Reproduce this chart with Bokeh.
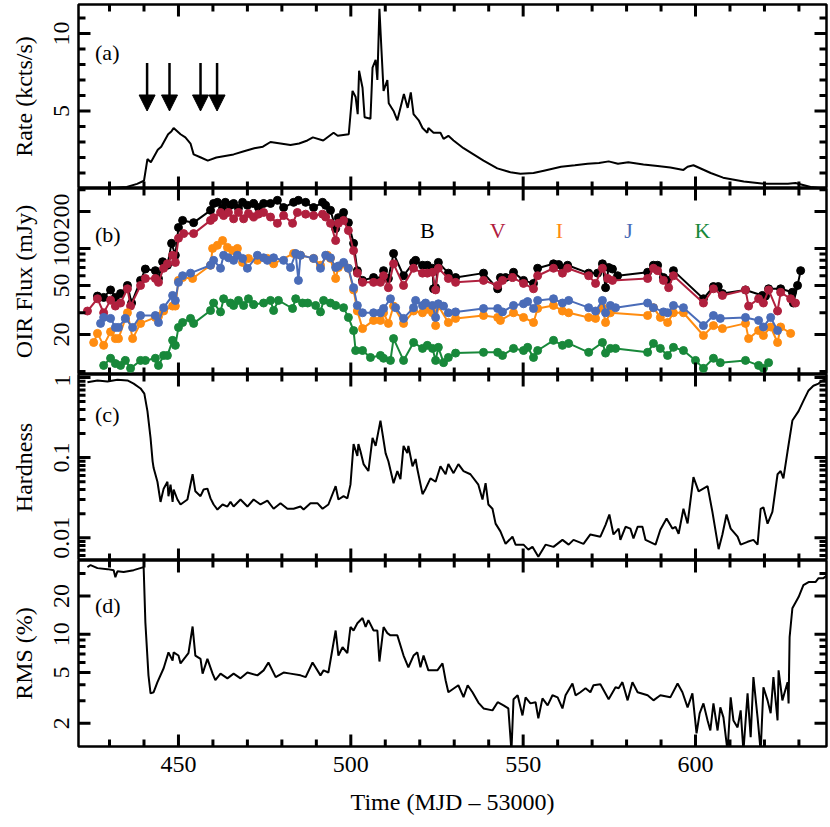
import math
from bokeh.plotting import figure
from bokeh.models import (Range1d, LinearAxis, LogAxis, FixedTicker, Arrow, NormalHead,
                          Label, CustomJSTickFormatter)
from bokeh.layouts import column
from bokeh.embed import file_html
from bokeh.resources import INLINE

# ---------------- data ----------------
rate_t = [426.5, 430.0, 435.0, 438.0, 440.0, 441.0, 442.0, 444.0, 445.0, 447.0, 448.0, 448.6,
          450.6, 452.0, 453.5, 454.4, 456.5, 458.5, 461.0, 463.5, 466.0, 469.0, 472.0, 474.5,
          476.7, 479.6, 482.5, 485.0, 487.4, 489.0, 492.0, 495.0, 496.2, 499.4, 500.5, 501.4,
          502.0, 502.4, 503.4, 504.0, 505.7, 506.3, 507.2, 507.7, 508.3, 508.9, 509.5, 510.6,
          511.0, 512.4, 513.5, 515.4, 516.5, 517.4, 518.2, 519.7, 520.8, 522.2, 522.5, 524.0,
          526.0, 526.9, 528.3, 529.8, 532.7, 535.6, 538.5, 542.5, 546.3, 549.2, 553.0, 556.0,
          561.0, 565.0, 568.7, 572.0, 574.8, 577.5, 580.5, 584.9, 589.0, 592.7, 596.5, 597.7,
          599.4, 604.4, 608.0, 614.0, 620.0, 625.0, 626.8, 629.0, 633.4, 637.0]
rate = [0.0, 0.02, 0.1, 0.3, 0.5, 1.9, 1.7, 2.5, 2.7, 3.5, 3.7, 3.9,
        3.5, 3.3, 2.9, 2.2, 2.0, 1.8, 2.0, 2.1, 2.2, 2.4, 2.6, 2.7,
        3.0, 2.9, 2.8, 2.9, 3.1, 3.3, 3.1, 3.6, 3.4, 3.5, 6.3, 5.9,
        4.8, 7.6, 6.5, 4.6, 4.5, 7.8, 8.3, 7.0, 11.6, 8.9, 6.3, 7.0,
        5.5, 5.0, 4.4, 6.1, 5.2, 6.2, 4.8, 4.4, 3.9, 3.6, 3.9, 3.6,
        3.6, 3.2, 3.4, 3.1, 2.6, 2.2, 1.8, 1.3, 1.05, 0.95, 1.0, 1.15,
        1.4, 1.5, 1.6, 1.65, 1.75, 1.6, 1.7, 1.55, 1.45, 1.35, 1.2, 1.4,
        1.5, 1.0, 0.7, 0.45, 0.3, 0.3, 0.3, 0.35, 0.1, 0.0]

arrow_t = [440.9, 447.4, 456.4, 461.2]

B_t = [426.5, 428.3, 430.3, 431.7, 433.2, 435.2, 436.4, 439.0, 440.4, 443.3, 444.2, 445.4, 446.8,
       448.0, 449.1, 450.0, 451.2, 454.4, 459.3, 460.2, 461.3, 462.8, 463.6, 465.1, 466.0, 467.4,
       468.6, 470.0, 471.8, 473.2, 474.7, 476.7, 478.7, 480.5, 483.4, 484.8, 486.9, 489.2, 491.8,
       492.7, 494.1, 495.6, 496.4, 497.9, 499.3, 500.8, 501.9, 503.4, 506.6, 508.6, 509.5, 510.9,
       512.4, 515.3, 518.2, 518.8, 520.8, 522.2, 523.7, 524.0, 524.6, 525.4, 528.3, 530.4, 538.5,
       542.6, 543.4, 544.9, 547.2, 550.1, 553.0, 554.2, 558.8, 560.3, 561.7, 562.9, 569.0, 571.6,
       573.0, 573.9, 574.8, 575.9, 577.4, 586.1, 587.8, 589.0, 590.7, 591.9, 593.6, 602.3, 605.2,
       606.6, 607.8, 614.5, 619.4, 620.3, 621.2, 624.7, 628.1, 628.4, 629.6, 630.5]
B_flux = [41, 40, 46, 40, 43, 50, 36, 55, 68, 66, 57, 78, 73,
          110, 88, 148, 169, 162, 204, 232, 237, 212, 237, 224, 232, 212,
          237, 224, 232, 215, 232, 232, 246, 215, 237, 246, 237, 215, 237,
          224, 204, 145, 178, 196, 162, 110, 66, 55, 58, 55, 66, 57,
          91, 60, 77, 80, 73, 73, 69, 47, 48, 77, 63, 58, 63,
          47, 58, 58, 64, 55, 52, 69, 75, 74, 69, 73, 63, 63,
          75, 48, 70, 68, 60, 64, 73, 73, 58, 55, 66, 39, 49,
          49, 43, 46, 41.5, 41, 47, 47, 44, 36, 50, 66]

V_t = [423.6, 426.5, 428.3, 430.3, 431.7, 433.2, 435.2, 436.1, 439.0, 440.4, 443.3, 444.2, 445.7,
       446.8, 448.3, 449.1, 450.0, 451.5, 454.4, 459.3, 460.2, 462.2, 463.1, 464.5, 466.0, 467.4,
       468.9, 470.3, 471.8, 473.2, 474.7, 476.7, 478.7, 480.5, 483.1, 484.5, 486.9, 489.2, 491.8,
       492.7, 494.1, 495.6, 496.4, 497.9, 499.3, 500.8, 501.9, 503.4, 506.6, 508.6, 509.5, 510.9,
       512.4, 515.3, 518.2, 520.8, 522.2, 523.7, 524.6, 525.4, 528.3, 530.4, 538.5, 542.6, 544.0,
       546.9, 550.1, 553.0, 554.2, 558.8, 561.4, 562.9, 569.0, 571.0, 573.0, 574.5, 575.9, 586.1,
       587.8, 589.0, 590.7, 592.2, 593.6, 602.3, 605.2, 607.8, 614.5, 615.4, 618.3, 619.7, 621.2,
       623.8, 624.7, 627.6, 629.0]
V_flux = [31, 39, 30, 38, 34, 36, 47, 34, 50, 57, 57, 53, 69,
          75, 88, 77, 121, 132, 132, 169, 178, 196, 185, 196, 174, 196,
          174, 192, 180, 190, 196, 180, 160, 185, 160, 196, 190, 185, 190,
          180, 160, 116, 160, 169, 140, 96, 63, 53, 53, 53, 60, 48,
          75, 50, 69, 63, 63, 64, 46, 69, 57, 53, 55, 50, 55,
          58, 52, 47, 60, 69, 63, 69, 60, 52, 69, 57, 55, 57,
          69, 66, 55, 48, 60, 36, 47, 41.5, 46, 34, 39, 36, 46,
          31, 44, 39, 36]

I_t = [425.4, 426.5, 428.3, 430.3, 431.7, 432.6, 435.2, 436.7, 439.0, 443.3, 444.2, 445.7, 448.3,
       449.1, 450.0, 451.2, 454.1, 459.3, 459.9, 461.3, 462.8, 464.2, 465.7, 467.1, 468.6, 470.3,
       472.9, 475.8, 477.6, 483.4, 485.4, 489.2, 491.2, 493.2, 494.1, 495.6, 496.4, 497.9, 499.3,
       500.8, 501.9, 503.4, 506.6, 508.6, 509.5, 510.9, 512.4, 515.3, 518.2, 520.8, 522.2, 523.7,
       524.6, 525.4, 528.3, 530.4, 538.5, 542.6, 543.4, 547.2, 550.1, 553.0, 554.2, 558.8, 561.4,
       563.2, 569.0, 571.0, 573.0, 573.9, 575.3, 586.1, 587.8, 589.8, 591.9, 593.6, 596.5, 602.3,
       605.2, 607.8, 614.5, 615.4, 618.3, 619.7, 621.8, 623.8, 624.7, 627.6]
I_flux = [17.2, 20.4, 16.3, 21, 18.5, 18.5, 30, 18.5, 24.6, 27.5, 28, 31, 34,
          34, 55, 58, 57, 73, 100, 106, 116, 102, 96, 100, 77, 83,
          80, 83, 75, 91, 88, 83, 73, 88, 83, 57, 70, 75, 69,
          46, 31, 22.3, 26, 26, 30, 24.6, 34, 24.6, 31, 30, 32, 30,
          23.6, 34, 25, 27, 28.5, 27.5, 26, 30, 27.5, 25, 32.5, 34.4, 31,
          30, 27.5, 27, 33, 25, 30, 28.5, 33, 27.5, 25, 30, 30, 19.6,
          23.6, 22.3, 24.6, 18.5, 21.5, 19.6, 23, 17.2, 23, 20.4]

J_t = [427.4, 428.3, 430.3, 431.7, 432.6, 434.6, 436.7, 439.0, 443.3, 444.2, 445.7, 448.3, 449.1,
       450.0, 451.2, 453.5, 459.3, 460.2, 462.2, 463.1, 464.5, 466.0, 467.1, 468.6, 470.0, 472.9,
       474.7, 475.8, 477.6, 480.5, 482.5, 484.0, 484.8, 485.4, 489.2, 491.2, 492.7, 494.1, 495.6,
       496.4, 497.9, 499.3, 500.8, 501.9, 503.4, 506.6, 508.6, 509.5, 511.5, 513.0, 515.3, 518.2,
       518.8, 520.8, 521.7, 523.7, 524.6, 525.4, 526.9, 528.3, 530.4, 538.5, 542.6, 544.0, 547.2,
       550.1, 551.3, 553.0, 554.2, 558.8, 561.4, 563.2, 569.0, 571.0, 573.0, 573.9, 575.3, 576.8,
       586.1, 587.8, 590.7, 591.9, 593.6, 596.5, 602.3, 605.2, 607.2, 614.5, 618.3, 619.7, 621.8,
       623.8]
J_flux = [24.6, 27.5, 27, 22.8, 22.8, 27, 22.8, 28.5, 28.5, 25, 33, 41.5, 37.8,
          53, 60, 63, 73, 80, 69, 88, 84, 80, 88, 83, 69, 88,
          84, 80, 84, 80, 70, 91, 55, 88, 83, 69, 88, 84, 70,
          72, 77, 69, 48, 34.4, 30, 30, 30, 32.5, 39, 33, 27, 33,
          37.8, 34.4, 36, 34.4, 27.5, 35.5, 34, 30, 30.5, 32.5, 32.5, 30.5, 34.4,
          35.5, 37, 32.5, 37.8, 39, 36, 37.8, 33, 31, 37.8, 30, 34.4, 33,
          36, 33, 30.5, 30, 34.4, 33, 23.6, 28.5, 27, 27.5, 26, 23, 27.5,
          21.5]

K_t = [428.3, 430.3, 431.7, 433.2, 434.6, 436.1, 439.0, 440.4, 443.3, 444.2, 445.7, 446.8, 448.3,
       449.1, 450.0, 451.2, 453.5, 454.4, 459.3, 460.2, 462.2, 463.1, 465.1, 466.0, 467.4, 468.9,
       470.3, 471.8, 474.7, 476.7, 477.6, 479.0, 483.1, 484.0, 486.0, 487.5, 489.8, 491.2, 492.1,
       494.1, 495.6, 497.9, 499.3, 500.8, 501.4, 503.4, 505.7, 508.6, 509.5, 511.5, 512.4, 515.3,
       518.2, 520.8, 522.2, 523.7, 524.6, 525.4, 526.9, 528.3, 530.4, 538.5, 542.6, 544.0, 547.2,
       550.1, 551.3, 553.0, 554.2, 558.8, 561.4, 563.2, 569.0, 573.0, 573.9, 575.3, 576.8, 586.1,
       587.8, 589.8, 591.9, 593.6, 596.5, 600.0, 602.3, 605.2, 607.2, 614.5, 618.3, 619.7, 621.2]
K_flux = [11.2, 12.8, 11.6, 11.2, 12.3, 10.6, 12.3, 12.3, 12.8, 11.2, 13.5, 13.5, 17.9,
          16.3, 22.8, 25, 27, 24.6, 31.3, 36, 30.5, 39, 36, 34.4, 37.8, 34.4,
          39, 35, 36, 37.8, 31.3, 37.8, 32.5, 39, 36, 36, 34.4, 30.5, 37.8,
          36, 34.4, 33, 27.5, 21.5, 14.8, 14.8, 13, 13.5, 12.8, 12.3, 18.5, 12.3,
          17.2, 15.4, 16.3, 15.4, 12.3, 15.7, 11.8, 13, 14.1, 14.3, 14.3, 13.5, 15.4,
          14.8, 15.7, 13, 14.8, 17.9, 16.3, 16.9, 14.3, 17.2, 14.1, 15.4, 15.4, 14.3,
          16.9, 15.4, 13.5, 15.7, 14.8, 12.3, 10.6, 12.8, 11.8, 12.3, 11.2, 10.6, 11.8]

band_names = ["B", "V", "I", "J", "K"]
band_label_t = [522.2, 542.6, 560.5, 580.6, 602.0]

hard_t = [423.6, 426.5, 429.4, 432.3, 435.2, 437.0, 439.0, 440.1, 441.0, 441.9, 442.5, 442.8, 443.9,
          444.8, 445.7, 446.8, 447.1, 447.7, 448.3, 448.6, 449.7, 450.6, 452.6, 454.1, 454.9, 456.4,
          457.3, 458.4, 459.3, 460.2, 461.3, 462.8, 464.2, 465.1, 466.0, 468.0, 470.0, 471.8, 473.8,
          475.8, 477.6, 479.6, 481.6, 483.4, 485.4, 486.3, 488.3, 490.3, 491.8, 493.5, 495.6, 496.4,
          497.9, 499.0, 499.9, 500.8, 501.9, 502.2, 502.8, 503.7, 505.1, 506.3, 507.2, 508.6, 510.1,
          510.9, 512.4, 513.5, 514.4, 515.3, 516.4, 516.7, 517.9, 518.8, 519.3, 520.8, 521.7, 523.1,
          524.6, 526.0, 527.5, 528.3, 529.8, 531.2, 532.7, 534.7, 537.0, 538.2, 539.1, 539.9, 541.1,
          542.0, 543.4, 544.9, 546.9, 547.8, 550.1, 551.5, 552.7, 554.4, 556.5, 558.8, 561.4, 563.2,
          564.6, 567.5, 569.5, 572.4, 573.9, 575.0, 576.2, 577.7, 578.2, 579.7, 581.1, 582.0, 583.2,
          584.6, 585.5, 588.4, 589.8, 591.6, 593.3, 594.2, 595.1, 596.5, 597.7, 599.4, 600.9, 603.5,
          604.9, 606.7, 607.8, 609.0, 610.2, 612.2, 613.1, 615.1, 616.8, 618.0, 618.9, 619.7, 620.9,
          622.3, 623.8, 624.7, 625.5, 626.7, 628.1, 629.9, 631.3, 632.8, 634.2, 635.7, 636.8, 638.0]
hard = [0.87, 0.92, 0.89, 0.94, 0.92, 0.84, 0.73, 0.63, 0.38, 0.176, 0.09, 0.074, 0.05,
        0.028, 0.041, 0.05, 0.033, 0.046, 0.028, 0.04, 0.030, 0.026, 0.030, 0.062, 0.038, 0.033,
        0.040, 0.041, 0.031, 0.026, 0.0225, 0.026, 0.0245, 0.028, 0.0245, 0.030, 0.0245, 0.030, 0.026,
        0.029, 0.023, 0.027, 0.023, 0.023, 0.0245, 0.0225, 0.027, 0.027, 0.023, 0.026, 0.044, 0.030,
        0.033, 0.031, 0.046, 0.148, 0.105, 0.148, 0.12, 0.083, 0.068, 0.176, 0.14, 0.29, 0.113,
        0.09, 0.048, 0.068, 0.054, 0.14, 0.114, 0.14, 0.078, 0.096, 0.072, 0.035, 0.041, 0.055,
        0.050, 0.078, 0.062, 0.083, 0.064, 0.083, 0.068, 0.062, 0.046, 0.030, 0.048, 0.026, 0.023,
        0.015, 0.012, 0.0084, 0.0103, 0.0082, 0.0082, 0.0071, 0.0077, 0.0058, 0.0082, 0.0077, 0.0094, 0.0082,
        0.0094, 0.0084, 0.011, 0.0103, 0.0145, 0.0195, 0.011, 0.013, 0.0094, 0.0137, 0.013, 0.0098, 0.0137,
        0.0137, 0.0094, 0.0082, 0.0126, 0.0174, 0.013, 0.0137, 0.0112, 0.023, 0.0151, 0.057, 0.038, 0.044,
        0.021, 0.0072, 0.011, 0.0195, 0.013, 0.0103, 0.0082, 0.0089, 0.0094, 0.0082, 0.023, 0.024, 0.015,
        0.021, 0.062, 0.068, 0.055, 0.12, 0.29, 0.38, 0.51, 0.69, 0.79, 0.84, 0.92, 0.95]

rms_t = [423.6, 424.5, 426.5, 429.4, 431.2, 431.7, 432.3, 434.1, 437.0, 439.9, 440.4, 441.3, 441.9,
         442.8, 443.9, 445.7, 447.1, 448.3, 448.6, 450.0, 450.6, 452.0, 452.9, 454.1, 454.9, 456.4,
         457.0, 458.4, 459.9, 460.7, 462.2, 464.2, 466.0, 468.0, 470.0, 472.9, 474.7, 476.1, 478.2,
         480.5, 482.5, 485.4, 486.9, 488.9, 491.2, 492.1, 493.5, 495.6, 496.4, 497.6, 499.0, 499.9,
         500.8, 501.9, 503.4, 504.3, 505.1, 506.6, 507.7, 508.3, 509.5, 510.6, 511.5, 513.5, 515.3,
         516.7, 518.2, 519.3, 520.2, 521.1, 522.5, 525.1, 526.6, 527.5, 528.3, 531.2, 532.7, 533.9,
         535.3, 537.0, 538.5, 541.1, 542.6, 544.3, 545.7, 546.6, 547.2, 548.4, 549.8, 550.7, 552.1,
         553.6, 554.4, 555.6, 557.1, 558.5, 560.0, 561.4, 562.3, 564.3, 565.2, 566.6, 568.1, 569.5,
         570.4, 572.4, 574.8, 576.8, 577.7, 578.8, 580.3, 581.7, 583.2, 586.1, 587.8, 589.8, 592.7,
         594.8, 596.2, 597.7, 599.1, 600.3, 601.2, 602.3, 603.5, 604.3, 605.2, 606.4, 607.2, 608.1,
         609.3, 610.2, 611.0, 612.2, 613.1, 613.9, 615.1, 616.0, 616.8, 618.0, 618.9, 619.7, 620.9,
         621.8, 622.6, 623.8, 624.1, 625.2, 626.7, 627.0, 627.3, 628.1, 629.9, 631.3, 632.8, 634.8,
         635.7, 637.1, 638.3]
rms = [33.7, 35.0, 33.1, 32.5, 31.9, 28.1, 31.3, 30.8, 31.9, 33.7, 12.4, 4.75, 3.43,
       3.5, 4.2, 5.4, 7.2, 6.2, 7.2, 6.8, 5.9, 6.6, 7.1, 11.5, 6.8, 6.4,
       4.9, 6.4, 4.9, 4.35, 4.9, 4.5, 4.9, 4.5, 5.0, 4.75, 5.2, 6.0, 4.6,
       5.0, 4.9, 4.75, 4.6, 6.0, 4.75, 5.2, 5.0, 10.7, 6.8, 7.9, 7.1, 11.4,
       10.7, 12.2, 13.4, 11.4, 12.9, 10.7, 10.7, 6.1, 11.4, 10.2, 9.8, 9.8, 6.8,
       5.5, 6.8, 7.2, 5.5, 6.8, 5.2, 5.2, 5.9, 4.35, 3.5, 3.97, 3.2, 3.97,
       3.5, 2.9, 2.61, 2.52, 2.92, 2.76, 2.61, 1.2, 3.08, 3.31, 2.30, 3.19, 2.86,
       2.92, 2.18, 3.13, 2.76, 3.31, 3.19, 2.61, 3.31, 4.1, 3.31, 3.5, 3.76, 3.5,
       3.97, 4.05, 3.08, 3.83, 3.76, 4.2, 3.02, 4.2, 3.5, 3.31, 3.02, 3.31, 3.19,
       4.1, 3.5, 2.66, 3.43, 1.66, 2.39, 2.86, 2.10, 1.75, 2.86, 1.75, 2.66, 2.22,
       1.2, 3.19, 2.10, 1.85, 2.52, 1.2, 3.43, 1.55, 4.6, 2.22, 1.2, 3.83, 3.02,
       2.39, 4.6, 2.10, 5.2, 3.02, 4.2, 2.86, 9.5, 16.0, 19.6, 24.3, 25.7, 25.7,
       27.6, 27.6, 29.2]

x_major_ticks = [450, 500, 550, 600]
x_minor_ticks = [430, 440, 460, 470, 480, 490, 510, 520, 530, 540, 560, 570, 580, 590, 610, 620, 630]
rate_major_ticks = [5, 10]
rate_minor_ticks = [1, 2, 3, 4, 6, 7, 8, 9, 11]
oir_major_ticks = [20, 50, 100, 200]
oir_minor_ticks = [10, 30, 40, 60, 70, 80, 90, 300]
hard_major_ticks = [0.01, 0.1, 1]
hard_minor_ticks = [0.006, 0.007, 0.008, 0.009, 0.02, 0.03, 0.04, 0.05, 0.06, 0.07, 0.08, 0.09,
                    0.2, 0.3, 0.4, 0.5, 0.6, 0.7, 0.8, 0.9]
rms_major_ticks = [2, 5, 10, 20]
rms_minor_ticks = [3, 4, 6, 7, 8, 9, 30]

# ---------------- styling helpers ----------------
FONT = "Liberation Serif"
X0, X1 = 421.0, 638.0
FRAME_W = 748
xr = Range1d(X0, X1)
fmt = CustomJSTickFormatter(code="return String(tick);")
MAJ, MIN = 12.0, 7.0   # inward tick lengths in px
NAN = float("nan")


def style_axis(ax):
    ax.axis_line_color = None
    ax.major_tick_in = 0
    ax.major_tick_out = 0
    ax.minor_tick_in = 0
    ax.minor_tick_out = 0
    ax.major_label_text_font = FONT
    ax.major_label_text_font_size = "24px"
    ax.major_label_text_color = "black"
    ax.axis_label_text_font = FONT
    ax.axis_label_text_font_size = "24px"
    ax.axis_label_text_font_style = "normal"
    ax.axis_label_text_color = "black"


def add_ticks(p, y0, y1, log, frame_h, y_major, y_minor):
    """Inward tick marks on all four frame edges: one NaN-broken line per panel."""
    xppu = FRAME_W / (X1 - X0)
    if log:
        dec = frame_h / math.log10(y1 / y0)

        def shift(y, L):
            return y * 10 ** (L / dec)
    else:
        ppu = frame_h / (y1 - y0)

        def shift(y, L):
            return y + L / ppu
    tx, ty = [], []
    for xs, L in ((x_major_ticks, MAJ), (x_minor_ticks, MIN)):
        for x in xs:
            tx += [float(x), float(x), NAN, float(x), float(x), NAN]
            ty += [float(y0), shift(y0, L), NAN, float(y1), shift(y1, -L), NAN]
    for ys, L in ((y_major, MAJ), (y_minor, MIN)):
        for y in ys:
            tx += [X0, X0 + L / xppu, NAN, X1, X1 - L / xppu, NAN]
            ty += [float(y), float(y), NAN, float(y), float(y), NAN]
    p.line(tx, ty, line_color="black", line_width=3)


def make_panel(frame_h, y0, y1, log, y_major, y_minor, ylabel, top_border=0, bottom_border=0,
               bottom_labels=False):
    p = figure(width=830, height=frame_h + top_border + bottom_border, x_range=xr,
               y_range=Range1d(y0, y1), y_axis_type="log" if log else "linear",
               x_axis_location=None, y_axis_location=None,
               output_backend="svg", toolbar_location=None,
               min_border_left=78, min_border_right=4, min_border_top=top_border,
               min_border_bottom=bottom_border)
    p.grid.visible = False
    p.outline_line_color = "black"
    p.outline_line_width = 2.5
    AxY = LogAxis if log else LinearAxis
    left = AxY(ticker=FixedTicker(ticks=list(y_major), minor_ticks=list(y_minor)), formatter=fmt,
               axis_label=ylabel, major_label_orientation="vertical")
    style_axis(left)
    left.major_label_standoff = 9
    left.axis_label_standoff = 15
    p.add_layout(left, "left")
    if bottom_labels:
        bot = LinearAxis(ticker=FixedTicker(ticks=list(x_major_ticks), minor_ticks=list(x_minor_ticks)),
                         axis_label="Time (MJD \u2013 53000)")
        style_axis(bot)
        bot.major_label_standoff = 10
        bot.axis_label_standoff = 14
        p.add_layout(bot, "below")
    return p


def panel_label(p, text, y):
    p.add_layout(Label(x=425.8, y=y, text=text, text_font=FONT, text_font_size="22px",
                       text_baseline="middle", text_align="left", text_color="black"))


# ---------------- panel (a) ----------------
pa = make_panel(184, 0.0, 11.87, False, rate_major_ticks, rate_minor_ticks,
                "Rate (kcts/s)", top_border=4)
pa.line(rate_t, rate, line_color="black", line_width=2)
add_ticks(pa, 0.0, 11.87, False, 184, rate_major_ticks, rate_minor_ticks)
for t in arrow_t:
    pa.add_layout(Arrow(end=NormalHead(size=16, fill_color="black", line_color="black"),
                        x_start=t, y_start=8.1, x_end=t, y_end=5.0,
                        line_color="black", line_width=2.5))
panel_label(pa, "(a)", 8.8)

# ---------------- panel (b) ----------------
pb = make_panel(186, 9.45, 307.0, True, oir_major_ticks, oir_minor_ticks, "OIR Flux (mJy)")
band_colors = ["black", "#b0203e", "#ff8c10", "#4a6cb8", "#18883a"]
series = [(B_t, B_flux), (V_t, V_flux), (I_t, I_flux), (J_t, J_flux), (K_t, K_flux)]
for (tt, ff), c in zip(series, band_colors):
    pb.line(tt, ff, line_color=c, line_width=2)
    pb.scatter(tt, ff, size=8, fill_color=c, line_color=c)
add_ticks(pb, 9.45, 307.0, True, 186, oir_major_ticks, oir_minor_ticks)
for name, t, c in zip(band_names, band_label_t, band_colors):
    pb.add_layout(Label(x=t, y=140, text=name, text_font=FONT, text_font_size="22px",
                        text_baseline="middle", text_align="center", text_color=c))
panel_label(pb, "(b)", 130)

# ---------------- panel (c) ----------------
pc = make_panel(186, 0.0052, 1.09, True, hard_major_ticks, hard_minor_ticks, "Hardness")
pc.line(hard_t, hard, line_color="black", line_width=2)
add_ticks(pc, 0.0052, 1.09, True, 186, hard_major_ticks, hard_minor_ticks)
panel_label(pc, "(c)", 0.343)

# ---------------- panel (d) ----------------
pd_ = make_panel(186, 1.31, 38.0, True, rms_major_ticks, rms_minor_ticks, "RMS (%)",
                 bottom_border=80, bottom_labels=True)
pd_.line(rms_t, rms, line_color="black", line_width=2)
add_ticks(pd_, 1.31, 38.0, True, 186, rms_major_ticks, rms_minor_ticks)
panel_label(pd_, "(d)", 16.9)

layout = column(pa, pb, pc, pd_, spacing=0)
open("out.html", "w").write(file_html(layout, INLINE))
